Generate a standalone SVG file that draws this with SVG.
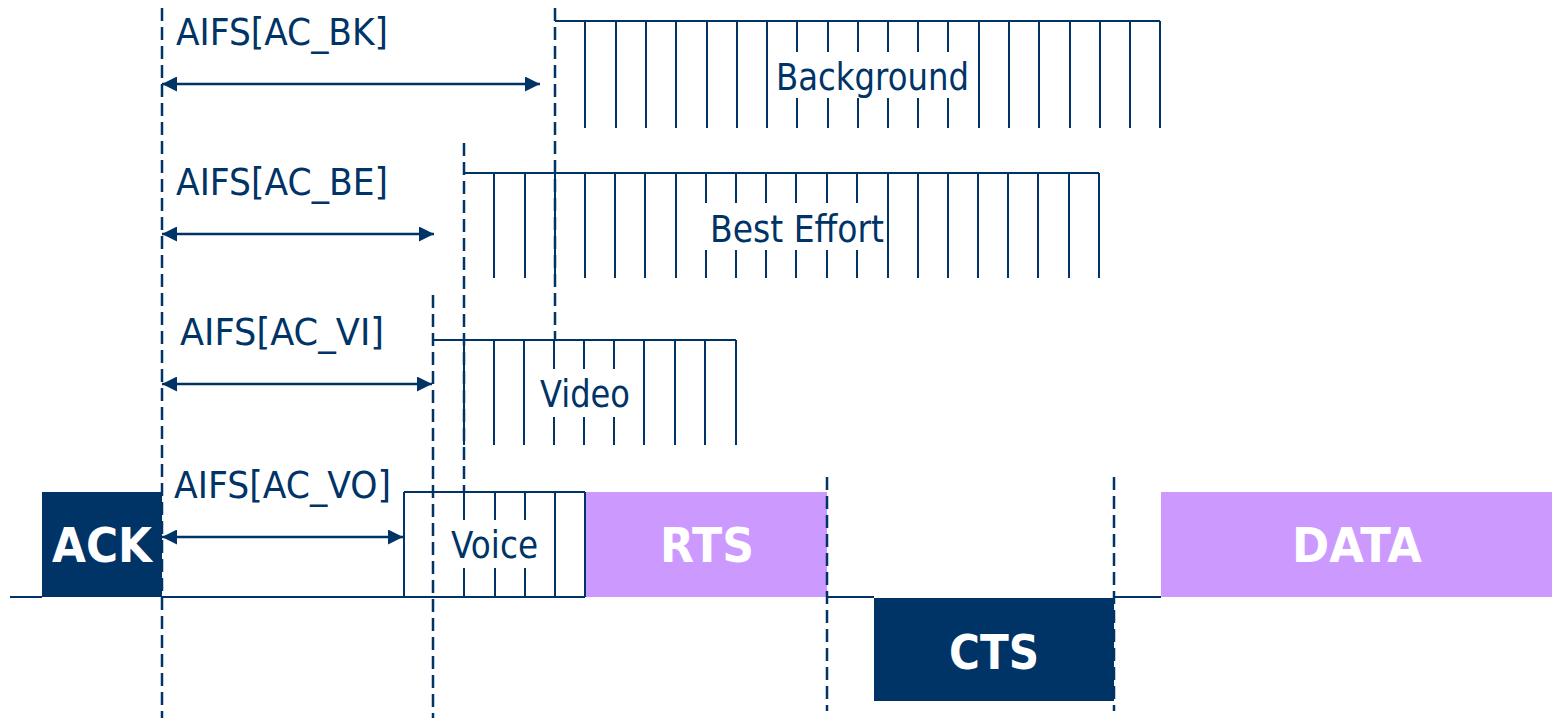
<svg xmlns="http://www.w3.org/2000/svg" width="1557" height="721" viewBox="0 0 1557 721">
<defs>
<style>
.tk{stroke:#003366;stroke-width:2;fill:none}
.ds{stroke:#003366;stroke-width:2.5;stroke-dasharray:13 6;fill:none}
.ar{stroke:#003366;stroke-width:2.5;fill:none;marker-start:url(#ah);marker-end:url(#ah)}
.lb{font-family:"DejaVu Sans","Liberation Sans",sans-serif;font-size:37px;fill:#003366}
.bl{font-family:"DejaVu Sans","Liberation Sans",sans-serif;font-size:48px;font-weight:bold;fill:#ffffff}
.navy{fill:#003366}
.pur{fill:#cc99ff}
.wb{fill:#ffffff}
</style>
<marker id="ah" markerUnits="userSpaceOnUse" markerWidth="15" markerHeight="15" refX="15" refY="7.5" orient="auto-start-reverse" viewBox="0 0 15 15">
<path d="M0,0 L15,7.5 L0,15 z" fill="#003366"/>
</marker>
</defs>
<rect width="1557" height="721" fill="#ffffff"/>

<g id="baseline">
<path class="tk" d="M10,597 H42 M162,597 H404 M827,597 H874 M1114,597 H1161"/>
</g>

<g id="ack">
<rect class="navy" x="42" y="492" width="120" height="105"/>
<text class="bl" x="52" y="562" textLength="100" lengthAdjust="spacingAndGlyphs">ACK</text>
</g>

<g id="rts">
<rect class="pur" x="586" y="492" width="241" height="105"/>
<text class="bl" x="660" y="562" textLength="94" lengthAdjust="spacingAndGlyphs">RTS</text>
</g>

<g id="cts">
<rect class="navy" x="874" y="598" width="240" height="103"/>
<text class="bl" x="949" y="669" textLength="90" lengthAdjust="spacingAndGlyphs">CTS</text>
</g>

<g id="data">
<rect class="pur" x="1161" y="492" width="391" height="105"/>
<text class="bl" x="1292" y="562" textLength="130" lengthAdjust="spacingAndGlyphs">DATA</text>
</g>

<g id="background">
<path class="tk" d="M555,21 H1160 M585,21 V128 M616,21 V128 M646,21 V128 M676,21 V128 M707,21 V128 M737,21 V128 M767,21 V128 M797,21 V128 M828,21 V128 M858,21 V128 M888,21 V128 M918,21 V128 M948,21 V128 M979,21 V128 M1009,21 V128 M1039,21 V128 M1070,21 V128 M1100,21 V128 M1130,21 V128 M1160,21 V128"/>
<rect class="wb" x="775" y="52" width="195" height="46"/>
<text class="lb" x="776" y="90" textLength="193" lengthAdjust="spacingAndGlyphs">Background</text>
</g>

<g id="best-effort">
<path class="tk" d="M464,173 H1099 M494,173 V278 M525,173 V278 M555,173 V278 M585,173 V278 M615,173 V278 M645,173 V278 M676,173 V278 M706,173 V278 M736,173 V278 M766,173 V278 M796,173 V278 M827,173 V278 M857,173 V278 M888,173 V278 M918,173 V278 M948,173 V278 M978,173 V278 M1008,173 V278 M1038,173 V278 M1069,173 V278 M1099,173 V278"/>
<rect class="wb" x="704" y="203" width="182" height="47"/>
<text class="lb" x="710" y="242" textLength="174" lengthAdjust="spacingAndGlyphs">Best Effort</text>
</g>

<g id="video">
<path class="tk" d="M433,340 H736 M464,340 V445 M494,340 V445 M524,340 V445 M554,340 V445 M584,340 V445 M614,340 V445 M644,340 V445 M675,340 V445 M705,340 V445 M736,340 V445"/>
<rect class="wb" x="537" y="369" width="95" height="48"/>
<text class="lb" x="540" y="407" textLength="90" lengthAdjust="spacingAndGlyphs">Video</text>
</g>

<g id="voice">
<path class="tk" d="M404,492 H585 M404,597 H585 M404,492 V597 M464,492 V597 M495,492 V597 M525,492 V597 M555,492 V597 M585,492 V597"/>
<rect class="wb" x="448" y="520" width="93" height="48"/>
<text class="lb" x="451" y="558" textLength="87" lengthAdjust="spacingAndGlyphs">Voice</text>
</g>

<g id="labels">
<text class="lb" x="176" y="45" textLength="212" lengthAdjust="spacingAndGlyphs">AIFS[AC_BK]</text>
<text class="lb" x="176" y="195" textLength="212" lengthAdjust="spacingAndGlyphs">AIFS[AC_BE]</text>
<text class="lb" x="180" y="345" textLength="204" lengthAdjust="spacingAndGlyphs">AIFS[AC_VI]</text>
<text class="lb" x="174" y="498" textLength="217" lengthAdjust="spacingAndGlyphs">AIFS[AC_VO]</text>
</g>

<g id="connectors">
<path class="ds" d="M162,8 V718"/>
<path class="ds" d="M555,8 V340"/>
<path class="ds" d="M464,143 V492"/>
<path class="ds" d="M433,295 V718"/>
<path class="ds" d="M827,477 V711"/>
<path class="ds" d="M1114,477 V711"/>
<line class="ar" x1="162" y1="84" x2="540" y2="84"/>
<line class="ar" x1="162" y1="234" x2="434" y2="234"/>
<line class="ar" x1="162" y1="384" x2="432" y2="384"/>
<line class="ar" x1="162" y1="537" x2="403" y2="537"/>
</g>
</svg>
